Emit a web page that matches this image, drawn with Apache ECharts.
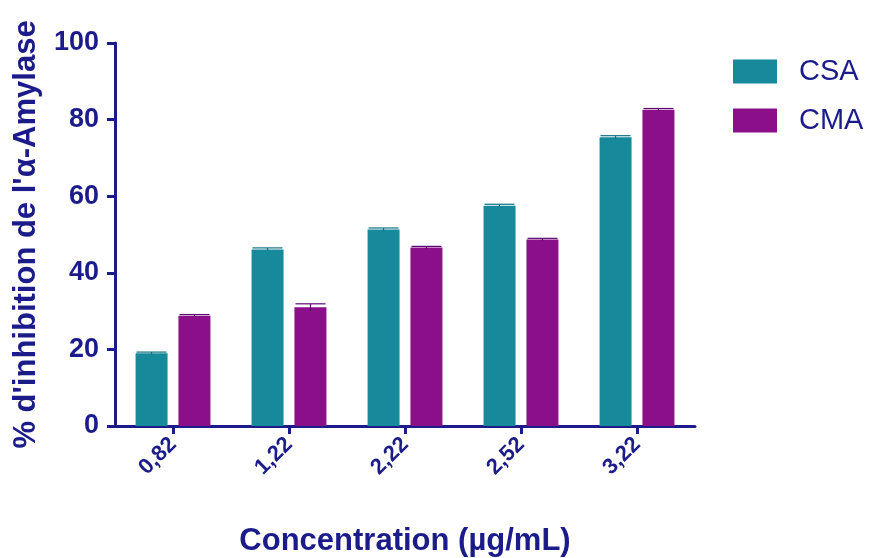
<!DOCTYPE html>
<html>
<head>
<meta charset="utf-8">
<script src="https://cdn.jsdelivr.net/npm/echarts@6/dist/echarts.min.js"></script>
<style>html,body{margin:0;padding:0;background:#fff}#c{width:870px;height:558px}</style>
</head>
<body>
<div id="c"></div>
<script>
var categories = ['0,82', '1,22', '2,22', '2,52', '3,22'];
var csaValues = [19.0, 46.1, 51.3, 57.5, 75.4];
var cmaValues = [28.8, 31.0, 46.6, 48.7, 82.6];
var csaErrors = [0.3, 0.4, 0.4, 0.4, 0.4];
var cmaErrors = [0.3, 0.9, 0.3, 0.3, 0.3];
var yTicks = [0, 20, 40, 60, 80, 100];

var navy = '#1b1b8a';
var teal = '#168a9b';
var purple = '#8a0f88';

function errSeries(name, vals, errs, offset, color) {
  var data = vals.map(function (v, i) { return [i, v, errs[i]]; });
  return {
    type: 'custom', name: name + ' err', silent: true, z: 5,
    data: data,
    renderItem: function (params, api) {
      var i = api.value(0), v = api.value(1), e = api.value(2);
      var hi = api.coord([i, v + e]);
      var lo = api.coord([i, v - e]);
      var x = hi[0] + offset;
      var hw = 15;
      return {
        type: 'group',
        children: [
          { type: 'line', shape: { x1: x, y1: hi[1], x2: x, y2: lo[1] }, style: { stroke: color, lineWidth: 1.2 } },
          { type: 'line', shape: { x1: x - hw, y1: hi[1], x2: x + hw, y2: hi[1] }, style: { stroke: color, lineWidth: 1.2 } }
        ]
      };
    }
  };
}

var chart = echarts.init(document.getElementById('c'), null, { renderer: 'canvas' });
chart.setOption({
  animation: false,
  backgroundColor: '#ffffff',
  textStyle: { fontFamily: 'Liberation Sans, Arial, sans-serif' },
  grid: { left: 115, right: 175, top: 43, bottom: 132, containLabel: false, outerBoundsMode: 'none' },
  legend: {
    data: ['CSA', 'CMA'],
    orient: 'vertical',
    left: 733, top: 57, padding: 0,
    itemWidth: 44, itemHeight: 24, itemGap: 20,
    icon: 'rect',
    textStyle: { color: navy, fontSize: 29, fontFamily: 'Liberation Sans, Arial, sans-serif', padding: [0, 0, 0, 17] }
  },
  xAxis: {
    type: 'category',
    data: categories,
    name: 'Concentration (µg/mL)',
    nameLocation: 'middle',
    nameGap: 100,
    nameTextStyle: { color: navy, fontSize: 31, fontWeight: 'bold' },
    axisLine: { lineStyle: { color: navy, width: 3 } },
    axisTick: { show: true, alignWithLabel: true, length: 8, lineStyle: { color: navy, width: 3 } },
    axisLabel: { rotate: 45, color: navy, fontSize: 22, fontWeight: 'bold', margin: 15 }
  },
  yAxis: {
    type: 'value',
    min: 0, max: 100, interval: 20,
    name: "% d'inhibition de l'α-Amylase",
    nameLocation: 'middle',
    nameGap: 73,
    nameRotate: 90,
    nameTextStyle: { color: navy, fontSize: 31, fontWeight: 'bold' },
    splitLine: { show: false },
    axisLine: { show: true, lineStyle: { color: navy, width: 3 } },
    axisTick: { show: true, length: 8, lineStyle: { color: navy, width: 3 } },
    axisLabel: {
      color: navy, fontSize: 27, fontWeight: 'bold', margin: 16,
      formatter: function (v) { return yTicks.indexOf(v) >= 0 ? String(v) : ''; }
    }
  },
  series: [
    { name: 'CSA', type: 'bar', data: csaValues, barWidth: 32, barGap: '34%', itemStyle: { color: teal } },
    { name: 'CMA', type: 'bar', data: cmaValues, barWidth: 32, barGap: '34%', itemStyle: { color: purple } },
    errSeries('CSA', csaValues, csaErrors, -21.5, '#0f6f80'),
    errSeries('CMA', cmaValues, cmaErrors, 21.5, '#5a0a70')
  ]
});
</script>
</body>
</html>
